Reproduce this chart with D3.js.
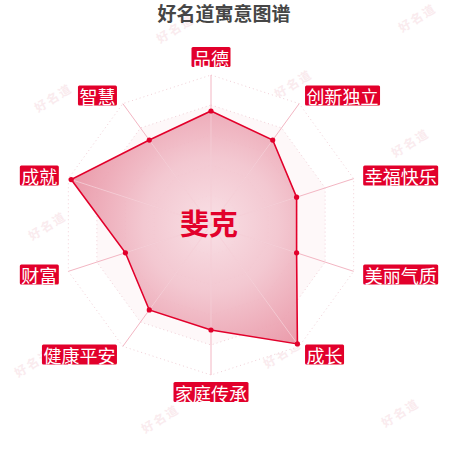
<!DOCTYPE html>
<html lang="en">

<head>
	<meta charset="UTF-8">
	<title>好名道寓意图谱</title>
	<style type="text/css">
		body { margin: 0; background: #fff; }
		text { font-family: "Noto Sans CJK SC", "Noto Sans", sans-serif; }
	</style>
</head>

<body>
	<div id="chart"></div>

	<script src="https://d3js.org/d3.v7.min.js"></script>
	<script>
		// indicators, clockwise from the top
		var categories = ['品德', '创新独立', '幸福快乐', '美丽气质', '成长', '家庭传承', '健康平安', '财富', '成就', '智慧'];
		var values = [76, 70, 60, 60, 98, 70, 70, 60, 98, 70];
		var maxValue = 100;
		var levels = [20, 40, 60, 80, 100];
		var title = '好名道寓意图谱';
		var name = '斐克';
		var watermarks = [[175, 28], [417, 17], [53, 97], [293, 83], [410, 142], [47, 225], [293, 212],
			[175, 287], [33, 362], [282, 353], [160, 418], [400, 412]];

		var width = 450, height = 450;
		var cx = 211, cy = 225, radius = 150;
		var red = '#e2002b';

		var svg = d3.select('#chart')
			.append('svg')
			.attr('width', width)
			.attr('height', height);

		// faint watermark
		svg.append('g')
			.selectAll('text')
			.data(watermarks)
			.join('text')
			.attr('transform', d => `translate(${d[0]}, ${d[1]}) rotate(-32)`)
			.attr('text-anchor', 'middle')
			.attr('dominant-baseline', 'central')
			.attr('font-size', 12)
			.attr('font-weight', 'bold')
			.attr('letter-spacing', 2)
			.attr('fill', '#f4d3da')
			.attr('opacity', 0.45)
			.text('好名道');

		svg.append('text')
			.attr('x', 224)
			.attr('y', 12)
			.attr('text-anchor', 'middle')
			.attr('dominant-baseline', 'central')
			.attr('font-size', 19)
			.attr('font-weight', 'bold')
			.attr('fill', '#464646')
			.text(title);

		var angle = d3.scaleLinear()
			.domain([0, categories.length])
			.range([0, 2 * Math.PI]);

		var rScale = d3.scaleLinear()
			.domain([0, maxValue])
			.range([0, radius]);

		var g = svg.append('g')
			.attr('transform', `translate(${cx}, ${cy})`);

		var radial = d3.lineRadial()
			.angle((d, i) => angle(i))
			.radius(d => rScale(d))
			.curve(d3.curveLinearClosed);

		// gradient used for the data area
		var defs = svg.append('defs');
		var grad = defs.append('radialGradient')
			.attr('id', 'areaGrad')
			.attr('gradientUnits', 'userSpaceOnUse')
			.attr('cx', 0).attr('cy', 0).attr('r', radius);
		grad.append('stop').attr('offset', '0%').attr('stop-color', '#f8dde3');
		grad.append('stop').attr('offset', '45%').attr('stop-color', '#f2c3cd');
		grad.append('stop').attr('offset', '100%').attr('stop-color', '#e890a1');

		// split areas
		levels.slice().reverse().forEach((lv, idx) => {
			g.append('path')
				.datum(categories.map(() => lv))
				.attr('d', radial)
				.attr('fill', idx % 2 ? '#fef8f9' : '#ffffff')
				.attr('stroke', '#f1d0d7')
				.attr('stroke-width', 1)
				.style('stroke-dasharray', '1 3');
		});

		// axis lines
		g.selectAll('.axis')
			.data(categories)
			.join('line')
			.attr('class', 'axis')
			.attr('x1', 0).attr('y1', 0)
			.attr('x2', (d, i) => rScale(maxValue) * Math.sin(angle(i)))
			.attr('y2', (d, i) => -rScale(maxValue) * Math.cos(angle(i)))
			.attr('stroke', '#f3b6c3')
			.attr('stroke-width', 1);

		// data area
		g.append('path')
			.datum(values)
			.attr('d', radial)
			.attr('fill', 'url(#areaGrad)')
			.attr('fill-opacity', 0.92)
			.attr('stroke', red)
			.attr('stroke-width', 1.6);

		// axis lines again, faint over the area
		g.selectAll('.axis2')
			.data(categories)
			.join('line')
			.attr('class', 'axis2')
			.attr('x1', 0).attr('y1', 0)
			.attr('x2', (d, i) => rScale(values[i]) * Math.sin(angle(i)))
			.attr('y2', (d, i) => -rScale(values[i]) * Math.cos(angle(i)))
			.attr('stroke', '#f6d2da')
			.attr('stroke-width', 1)
			.attr('opacity', 0.8);

		g.selectAll('.dot')
			.data(values)
			.join('circle')
			.attr('class', 'dot')
			.attr('cx', (d, i) => rScale(d) * Math.sin(angle(i)))
			.attr('cy', (d, i) => -rScale(d) * Math.cos(angle(i)))
			.attr('r', 2.6)
			.attr('fill', red);

		// indicator labels
		var labels = g.selectAll('.label')
			.data(categories)
			.join('g')
			.attr('class', 'label');

		labels.each(function (d, i) {
			var a = angle(i);
			var s = Math.sin(a), c = Math.cos(a);
			var x = (radius + 10) * s, y = -(radius + 10) * c;
			var lab = d3.select(this);
			var t = lab.append('text')
				.attr('font-size', 18)
				.attr('fill', '#fff')
				.attr('dominant-baseline', 'central')
				.text(d);
			var w = t.node().getComputedTextLength();
			var bw = w + 3, bh = 20;
			var left = s > 0.01 ? x : (s < -0.01 ? x - bw : x - bw / 2);
			var top = y - bh / 2;
			if (Math.abs(s) < 0.01) top = c > 0 ? y - bh + 2 : y - 3;
			lab.insert('rect', 'text')
				.attr('x', left)
				.attr('y', top)
				.attr('width', bw)
				.attr('height', bh)
				.attr('rx', 1.5)
				.attr('fill', red);
			t.attr('x', left + bw / 2)
				.attr('y', top + bh / 2 + 0.5)
				.attr('text-anchor', 'middle');
		});

		g.append('text')
			.attr('x', -2)
			.attr('y', -3)
			.attr('text-anchor', 'middle')
			.attr('dominant-baseline', 'central')
			.attr('font-size', 29)
			.attr('font-weight', 'bold')
			.attr('fill', red)
			.text(name);
	</script>
</body>

</html>
